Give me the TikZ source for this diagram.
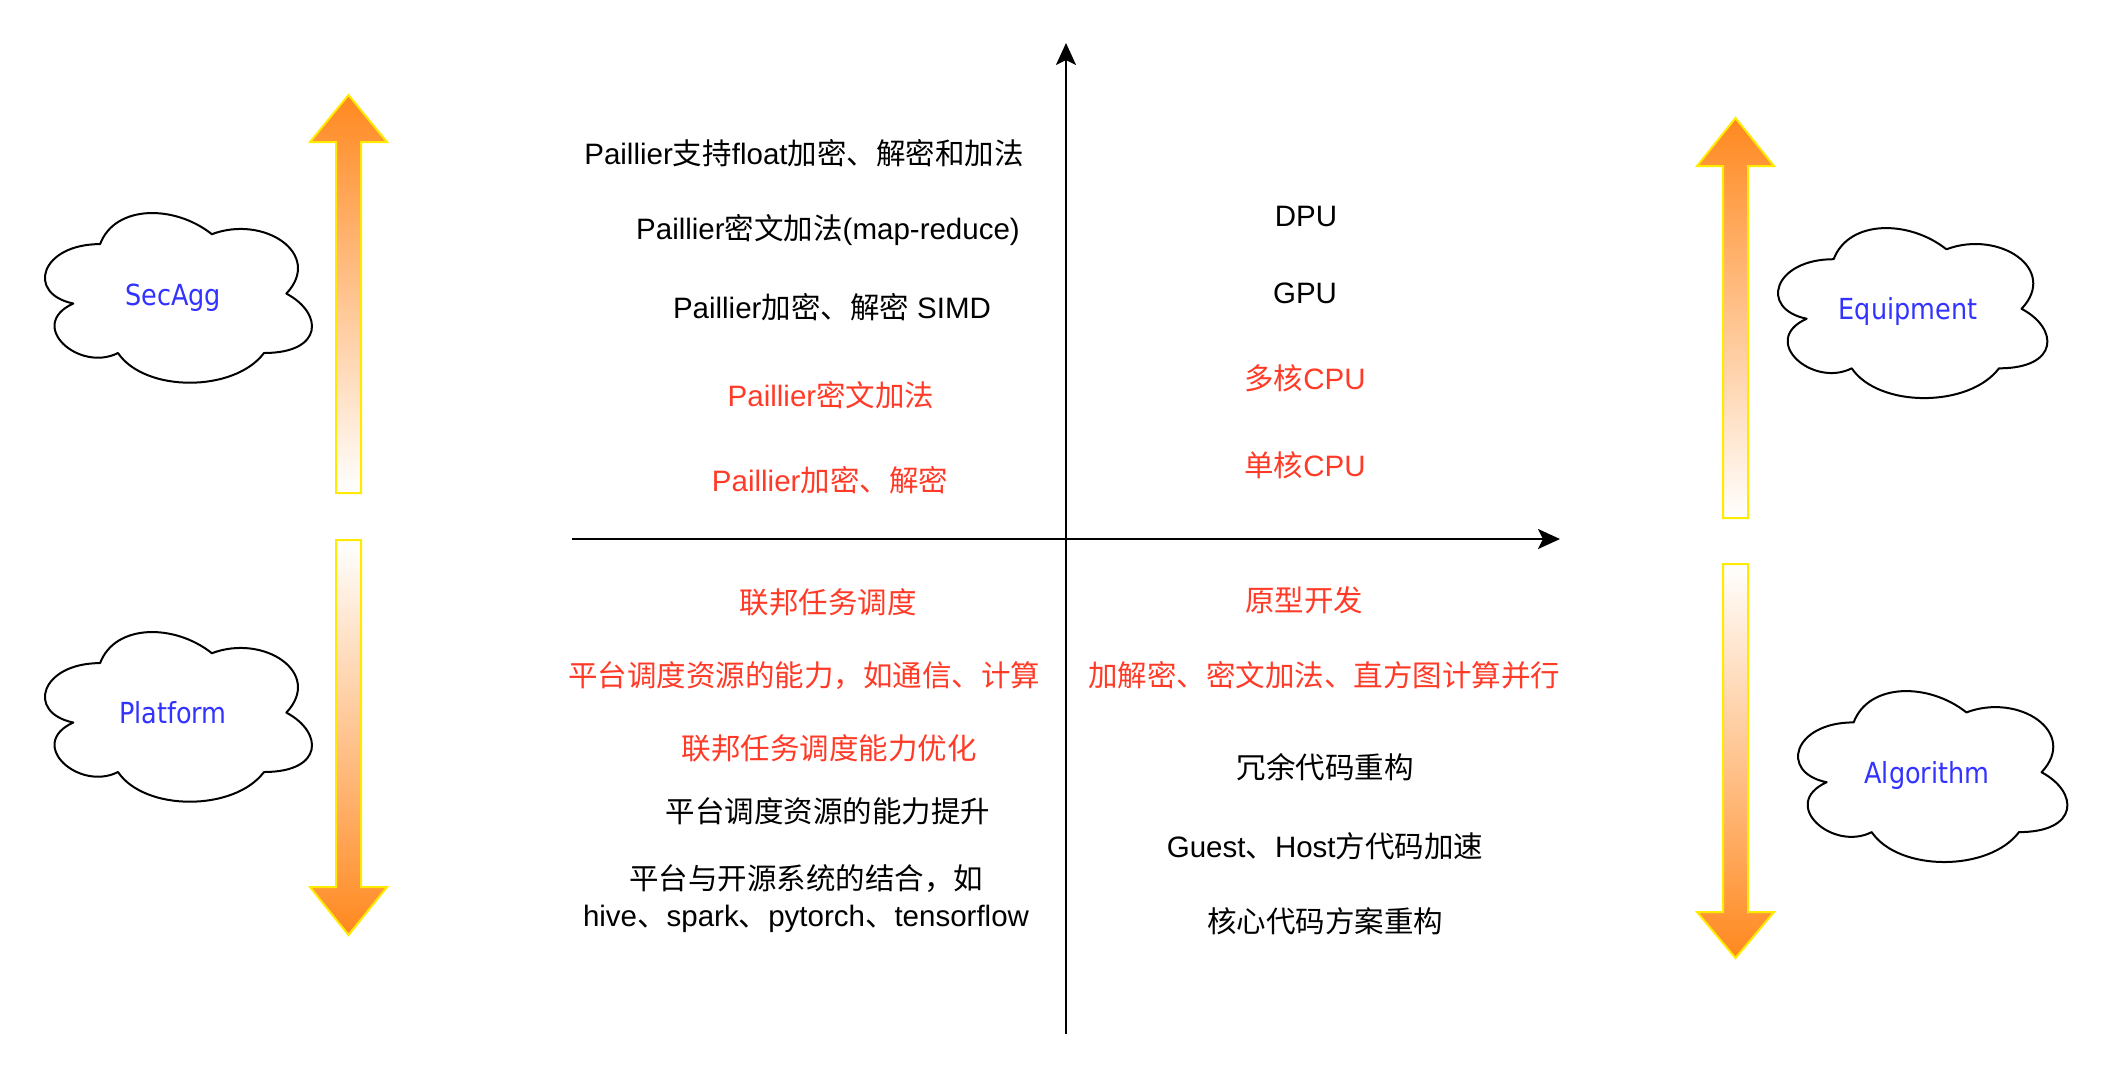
\documentclass[tikz,border=0pt]{standalone}
\usepackage{fontspec}
\setmainfont{Liberation Sans}
\newfontfamily\cjkf{Noto Sans CJK SC}
\newfontfamily\cloudf{DejaVu Sans}[FakeStretch=0.88]
\newcommand{\C}[1]{{\cjkf #1}}
\usetikzlibrary{arrows.meta}
\definecolor{myred}{RGB}{255,59,40}
\definecolor{myblue}{RGB}{51,51,255}
\definecolor{arrorange}{RGB}{255,136,30}
\definecolor{arryellow}{RGB}{255,235,0}
\newcommand{\cloudpath}[4]{%
  \begin{scope}[shift={(#1,#2)}, x=#3pt, y=-#4pt]
    \draw[cloudline] (0.25,0.25) .. controls (0.05,0.25) and (0,0.5) .. (0.16,0.55)
      .. controls (0,0.66) and (0.18,0.9) .. (0.31,0.8)
      .. controls (0.4,1) and (0.7,1) .. (0.8,0.8)
      .. controls (1,0.8) and (1,0.6) .. (0.875,0.5)
      .. controls (1,0.3) and (0.8,0.1) .. (0.625,0.2)
      .. controls (0.5,0.05) and (0.3,0.05) .. (0.25,0.25) -- cycle;
  \end{scope}}
\tikzset{
  lbl/.style={font=\fontsize{29.5}{37}\selectfont, inner sep=0pt, anchor=base},
  blktxt/.style={lbl, text=black},
  redtxt/.style={lbl, text=myred},
  cloudtxt/.style={font=\cloudf\fontsize{29}{35}\selectfont, text=myblue, inner sep=0pt, anchor=base},
  cloudline/.style={draw=black, line width=2pt, fill=white, line join=round},
  axis/.style={draw=black, line width=2.5pt, -{Stealth[length=22pt,width=20pt,inset=5pt]}},
  bigarrow/.style={draw=arryellow, line width=2pt, line join=miter},
}
\begin{document}
\begin{tikzpicture}[x=1pt, y=-1pt]
\fill[white] (0,0) rectangle (2103,1080);
\useasboundingbox (0,0) rectangle (2103,1080);

% big gradient arrows
\shade[bigarrow, top color=arrorange, bottom color=white]
  (336,493) -- (336,142) -- (310,142) -- (348.5,95) -- (387,142) -- (361,142) -- (361,493) -- cycle;
\shade[bigarrow, top color=white, bottom color=arrorange]
  (336,540) -- (336,887) -- (310,887) -- (348.5,935) -- (387,887) -- (361,887) -- (361,540) -- cycle;
\shade[bigarrow, top color=arrorange, bottom color=white]
  (1723,518) -- (1723,166) -- (1697,166) -- (1735.5,118) -- (1774,166) -- (1748,166) -- (1748,518) -- cycle;
\shade[bigarrow, top color=white, bottom color=arrorange]
  (1723,564) -- (1723,912) -- (1697,912) -- (1735.5,958) -- (1774,912) -- (1748,912) -- (1748,564) -- cycle;

% clouds
\cloudpath{25.6}{194.6}{298}{198}
\cloudpath{25.6}{613.6}{298}{198}
\cloudpath{1758.5}{209.6}{300.6}{198.4}
\cloudpath{1778.5}{672.5}{300.6}{199.5}
\node[cloudtxt] (secagg) at (173,305) {SecAgg};
\node[cloudtxt] (platform) at (173,723) {Platform};
\node[cloudtxt] (equipment) at (1908,319) {Equipment};
\node[cloudtxt] (algorithm) at (1927,783) {Algorithm};

% axes
\coordinate (ys) at (1066,1034);
\coordinate (ye) at (1066,43);
\coordinate (xs) at (572,539);
\coordinate (xe) at (1560,539);
\draw[axis] (ys) -- (ye);
\draw[axis] (xs) -- (xe);

% upper left
\node[blktxt] (t1) at (804,164) {Paillier\C{支持}float\C{加密、解密和加法}};
\node[blktxt] (t2) at (828,239) {Paillier\C{密文加法}(map-reduce)};
\node[blktxt] (t3) at (832,318) {Paillier\C{加密、解密} SIMD};
\node[redtxt] (t4) at (831,406) {Paillier\C{密文加法}};
\node[redtxt] (t5) at (830,491) {Paillier\C{加密、解密}};

% upper right
\node[blktxt] (r1) at (1306,226) {DPU};
\node[blktxt] (r2) at (1305,303) {GPU};
\node[redtxt] (r3) at (1305,389) {\C{多核}CPU};
\node[redtxt] (r4) at (1305,476) {\C{单核}CPU};

% lower left
\node[redtxt] (l1) at (828,613) {\C{联邦任务调度}};
\node[redtxt] (l2) at (804,686) {\C{平台调度资源的能力，如通信、计算}};
\node[redtxt] (l3) at (829,759) {\C{联邦任务调度能力优化}};
\node[blktxt] (l4) at (828,822) {\C{平台调度资源的能力提升}};
\node[blktxt, anchor=center, align=center] (l5) at (806,899)
  {\C{平台与开源系统的结合，如}\\hive\C{、}spark\C{、}pytorch\C{、}tensorflow};

% lower right
\node[redtxt] (b1) at (1304,611) {\C{原型开发}};
\node[redtxt] (b2) at (1324,686) {\C{加解密、密文加法、直方图计算并行}};
\node[blktxt] (b3) at (1325,778) {\C{冗余代码重构}};
\node[blktxt] (b4) at (1325,857) {Guest\C{、}Host\C{方代码加速}};
\node[blktxt] (b5) at (1325,932) {\C{核心代码方案重构}};
\end{tikzpicture}
\end{document}
